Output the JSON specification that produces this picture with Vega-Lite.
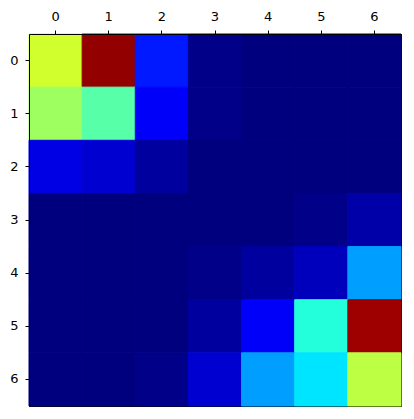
{
  "$schema": "https://vega.github.io/schema/vega-lite/v6.json",
  "autosize": "none",
  "padding": {"left": 29, "top": 34, "right": 13, "bottom": 13},
  "width": 372,
  "height": 372,
  "background": "white",
  "config": {
    "view": {"stroke": "black", "strokeWidth": 1},
    "axis": {"labelFont": "DejaVu Sans", "labelFontSize": 13, "labelColor": "black", "tickColor": "black", "domainColor": "black", "tickSize": 4, "labelPadding": 7, "grid": false, "title": null}
  },
  "data": {"values": [
    {"r":0,"c":0,"v":0.58},{"r":0,"c":1,"v":0.98},{"r":0,"c":2,"v":0.15},{"r":0,"c":3,"v":0.01},{"r":0,"c":4,"v":0},{"r":0,"c":5,"v":0},{"r":0,"c":6,"v":0},
    {"r":1,"c":0,"v":0.53},{"r":1,"c":1,"v":0.46},{"r":1,"c":2,"v":0.12},{"r":1,"c":3,"v":0.01},{"r":1,"c":4,"v":0},{"r":1,"c":5,"v":0},{"r":1,"c":6,"v":0},
    {"r":2,"c":0,"v":0.1},{"r":2,"c":1,"v":0.08},{"r":2,"c":2,"v":0.03},{"r":2,"c":3,"v":0},{"r":2,"c":4,"v":0},{"r":2,"c":5,"v":0},{"r":2,"c":6,"v":0},
    {"r":3,"c":0,"v":0},{"r":3,"c":1,"v":0},{"r":3,"c":2,"v":0},{"r":3,"c":3,"v":0},{"r":3,"c":4,"v":0},{"r":3,"c":5,"v":0.01},{"r":3,"c":6,"v":0.04},
    {"r":4,"c":0,"v":0},{"r":4,"c":1,"v":0},{"r":4,"c":2,"v":0},{"r":4,"c":3,"v":0.01},{"r":4,"c":4,"v":0.03},{"r":4,"c":5,"v":0.06},{"r":4,"c":6,"v":0.28},
    {"r":5,"c":0,"v":0},{"r":5,"c":1,"v":0},{"r":5,"c":2,"v":0},{"r":5,"c":3,"v":0.03},{"r":5,"c":4,"v":0.12},{"r":5,"c":5,"v":0.41},{"r":5,"c":6,"v":0.97},
    {"r":6,"c":0,"v":0},{"r":6,"c":1,"v":0},{"r":6,"c":2,"v":0.01},{"r":6,"c":3,"v":0.08},{"r":6,"c":4,"v":0.28},{"r":6,"c":5,"v":0.35},{"r":6,"c":6,"v":0.56}
  ]},
  "mark": {"type": "rect", "strokeWidth": 1},
  "encoding": {
    "x": {"field": "c", "type": "ordinal", "scale": {"paddingInner": 0, "paddingOuter": 0}, "axis": {"orient": "top", "labelAngle": 0}},
    "y": {"field": "r", "type": "ordinal", "scale": {"paddingInner": 0, "paddingOuter": 0}, "axis": {"orient": "left"}},
    "color": {"field": "v", "type": "quantitative", "legend": null,
      "scale": {"domain": [0, 0.125, 0.375, 0.625, 0.875, 1], "range": ["#00007f", "#0000ff", "#00ffff", "#ffff00", "#ff0000", "#7f0000"], "interpolate": "rgb"}},
    "stroke": {"field": "v", "type": "quantitative", "legend": null,
      "scale": {"domain": [0, 0.125, 0.375, 0.625, 0.875, 1], "range": ["#00007f", "#0000ff", "#00ffff", "#ffff00", "#ff0000", "#7f0000"], "interpolate": "rgb"}}
  }
}
